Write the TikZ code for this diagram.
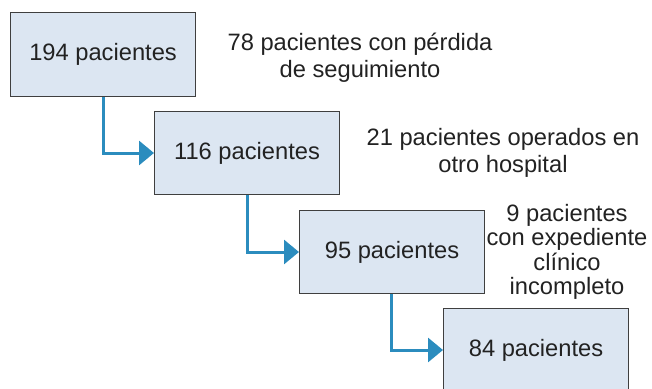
\documentclass[tikz,border=0pt]{standalone}
\usepackage{fontspec}
\setmainfont{Liberation Sans}
\usetikzlibrary{arrows.meta}
\definecolor{boxfill}{HTML}{DCE6F2}
\definecolor{boxline}{HTML}{3F3F3F}
\definecolor{arrowblue}{HTML}{2B8CBE}
\definecolor{txt}{HTML}{222222}
\begin{document}
\begin{tikzpicture}[x=1pt,y=-1pt,
  stepbox/.style={draw=boxline,line width=1.1pt,fill=boxfill,minimum width=185pt,minimum height=84pt,inner sep=0pt,anchor=north west,text=txt,font=\fontsize{23.7}{27}\selectfont},
  note/.style={align=center,text=txt,font=\fontsize{23.7}{27}\selectfont,inner sep=0pt},
  flow/.style={draw=arrowblue,line width=3pt,-{Triangle[length=15pt,width=24pt]}}]
\useasboundingbox (0,0) rectangle (652,388);
\node[stepbox] (b1) at (10,12) {194 pacientes};
\node[stepbox,minimum height=83pt] (b2) at (154,111) {116 pacientes};
\node[stepbox,minimum height=83pt] (b3) at (299,210) {95 pacientes};
\node[stepbox] (b4) at (443,308) {84 pacientes};
\coordinate (c1) at (103,153);
\coordinate (c2) at (247,252);
\coordinate (c3) at (391,350);
\draw[flow] (b1.south -| c1) |- (b2.west |- c1);
\draw[flow] (b2.south -| c2) |- (b3.west |- c2);
\draw[flow] (b3.south -| c3) |- (b4.west |- c3);
\node[note] (t1) at (360,58) {78 pacientes con pérdida\\de seguimiento};
\node[note] (t2) at (503,153) {21 pacientes operados en\\otro hospital};
\node[note,font=\fontsize{23.7}{24.5}\selectfont] (t3) at (567,252) {9 pacientes\\con expediente\\clínico\\incompleto};
\end{tikzpicture}
\end{document}
